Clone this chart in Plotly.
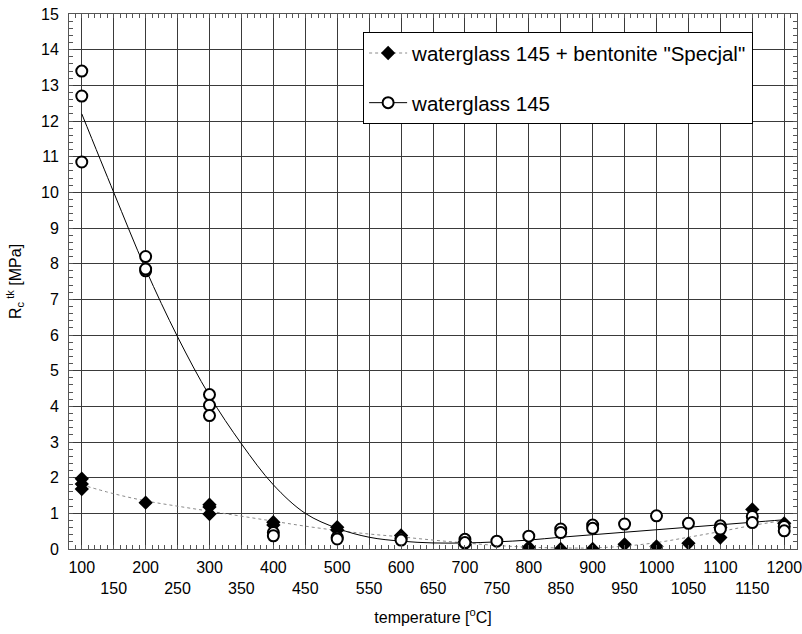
import plotly.graph_objects as go

# ---- measured points ----
wg_x = [100, 100, 100, 200, 200, 200, 300, 300, 300, 400, 400, 500, 500, 600, 600,
        700, 700, 750, 800, 850, 850, 900, 900, 950, 1000, 1050, 1100, 1100, 1150, 1150, 1200, 1200]
wg_y = [13.4, 12.7, 10.85, 8.2, 7.8, 7.85, 4.33, 4.03, 3.74, 0.46, 0.37, 0.33, 0.28, 0.3, 0.25,
        0.27, 0.18, 0.22, 0.36, 0.56, 0.46, 0.67, 0.58, 0.7, 0.93, 0.72, 0.65, 0.56, 0.91, 0.74, 0.63, 0.51]

bt_x = [100, 100, 100, 200, 300, 300, 300, 400, 400, 500, 500, 600, 700, 700,
        800, 850, 900, 950, 1000, 1050, 1100, 1100, 1150, 1200]
bt_y = [1.97, 1.82, 1.68, 1.30, 1.24, 1.18, 0.98, 0.75, 0.67, 0.61, 0.53, 0.38, 0.2, 0.12,
        0.05, 0.0, 0.0, 0.13, 0.07, 0.16, 0.32, 0.6, 1.11, 0.72]

# ---- fitted curves ----
fit_x = [100, 150, 200, 250, 300, 350, 400, 450, 500, 550, 600, 650, 700, 750, 800,
         850, 900, 950, 1000, 1050, 1100, 1150, 1200]
wg_fit = [12.2, 10.0, 7.85, 5.95, 4.3, 2.95, 1.8, 1.0, 0.58, 0.33, 0.22, 0.17, 0.17, 0.2, 0.25,
          0.33, 0.4, 0.47, 0.54, 0.61, 0.68, 0.75, 0.82]
bt_fit = [1.8, 1.55, 1.35, 1.2, 1.06, 0.92, 0.78, 0.64, 0.52, 0.42, 0.34, 0.25, 0.17, 0.1, 0.05,
          0.03, 0.03, 0.08, 0.18, 0.33, 0.49, 0.66, 0.8]

names = ['waterglass 145 + bentonite "Specjal"', 'waterglass 145']

x_ticks = list(range(100, 1201, 50))
x_text = [str(v) if (v // 50) % 2 == 0 else "<br>" + str(v) for v in x_ticks]
y_ticks = list(range(0, 16))

FONT = "Liberation Sans, Arial, sans-serif"

fig = go.Figure()

# fitted curves
fig.add_trace(go.Scatter(x=fit_x, y=bt_fit, mode="lines",
                         line=dict(color="#8a8a8a", width=1, dash="dot", shape="spline", smoothing=1),
                         showlegend=False, hoverinfo="skip"))
fig.add_trace(go.Scatter(x=fit_x, y=wg_fit, mode="lines",
                         line=dict(color="black", width=1, shape="spline", smoothing=1),
                         showlegend=False, hoverinfo="skip"))
# points
fig.add_trace(go.Scatter(x=bt_x, y=bt_y, mode="markers",
                         marker=dict(symbol="diamond", size=11, color="black", line=dict(color="black", width=0)),
                         showlegend=False))
fig.add_trace(go.Scatter(x=wg_x, y=wg_y, mode="markers",
                         marker=dict(symbol="circle", size=11, color="white", line=dict(color="black", width=2)),
                         showlegend=False))
# legend entries
fig.add_trace(go.Scatter(x=[None], y=[None], mode="lines+markers", name=names[0], legendgroup="a",
                         line=dict(color="#8a8a8a", width=1, dash="dot"),
                         marker=dict(symbol="diamond", size=11, color="black")))
fig.add_trace(go.Scatter(x=[None], y=[None], mode="lines+markers", name=names[1], legendgroup="b",
                         line=dict(color="black", width=1),
                         marker=dict(symbol="circle", size=11, color="white", line=dict(color="black", width=2))))

axis_common = dict(
    showline=True, linecolor="#555", linewidth=1, mirror="allticks",
    showgrid=True, gridcolor="#3a3a3a", gridwidth=1, zeroline=False,
    ticks="inside", ticklen=0, tickcolor="#555", automargin=False,
    ticklabeloverflow="allow",
    tickfont=dict(family=FONT, size=16, color="black"),
)

fig.update_xaxes(range=[80, 1220], tickvals=x_ticks, ticktext=x_text, tickangle=0,
                 title=dict(text="temperature [<sup>o</sup>C]", font=dict(family=FONT, size=16, color="black")),
                 minor=dict(dtick=10, tick0=0, ticks="inside", ticklen=4, tickcolor="#555", showgrid=False),
                 ticklabelstandoff=4,
                 **axis_common)
fig.update_yaxes(range=[0, 15], tickvals=y_ticks,
                 title=dict(text="R<sub>c</sub><sup> tk</sup> [MPa]", font=dict(family=FONT, size=16, color="black")),
                 minor=dict(dtick=0.2, tick0=0, ticks="inside", ticklen=4, tickcolor="#555", showgrid=False),
                 ticklabelstandoff=6,
                 **axis_common)

fig.update_layout(
    width=802, height=634,
    margin=dict(l=69, r=5, t=14, b=85),
    paper_bgcolor="white", plot_bgcolor="white",
    font=dict(family=FONT, color="black"),
    legend=dict(x=0.404, y=0.966, xanchor="left", yanchor="top",
                bgcolor="white", bordercolor="black", borderwidth=1,
                font=dict(family=FONT, size=20.5, color="black"),
                tracegroupgap=20, itemwidth=38),
)

# remove the page's default body margin so the 802x634 figure fills the window
fig.write_html("out.html", config={"displayModeBar": False},
               post_script="document.body.style.margin='0px';")
